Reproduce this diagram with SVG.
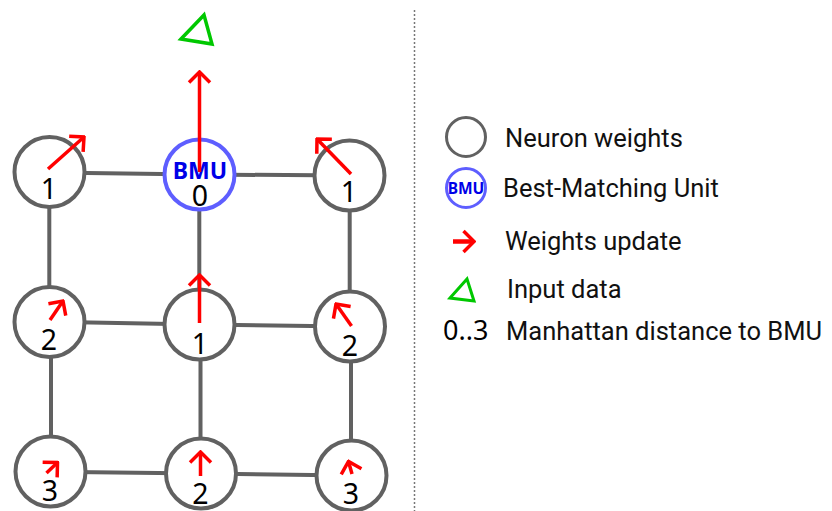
<svg xmlns="http://www.w3.org/2000/svg" width="832" height="511" viewBox="0 0 832 511">
<style>
.edge{stroke:#616161;stroke-width:4;fill:none}
.neuron{fill:#fff;stroke:#616161;stroke-width:4}
.bmu{fill:#fff;stroke:#5e5eff;stroke-width:4}
.upd{stroke:#ff0000;stroke-width:3.5;fill:none;marker-end:url(#head)}
.num{font-family:"Noto Sans","Open Sans",sans-serif;font-size:28.5px;fill:#000;text-anchor:middle}
.lbl{font-family:Roboto,"Noto Sans",sans-serif;font-size:25.5px;fill:#111}
.bmutxt{font-family:"Noto Sans","Liberation Sans",sans-serif;font-weight:bold;fill:#0000e8;text-anchor:middle}
.tri{fill:none;stroke:#00c800;stroke-width:3.5;stroke-linejoin:miter}
</style>
<defs>
<marker id="head" markerUnits="userSpaceOnUse" viewBox="-14 -14 16 28" refX="0" refY="0" markerWidth="16" markerHeight="28" orient="auto">
<path d="M-10.5,-10.5 L0,0 L-10.5,10.5" fill="none" stroke="#ff0000" stroke-width="3.5"/>
</marker>
</defs>
<line x1="414.5" y1="10" x2="414.5" y2="511" stroke="#777" stroke-width="1.5" stroke-dasharray="2 2"/>
<g id="connectors">
<line class="edge" x1="49.5" y1="172.5" x2="199.5" y2="174.5"/>
<line class="edge" x1="199.5" y1="174.5" x2="349.5" y2="175.5"/>
<line class="edge" x1="49.5" y1="321.7" x2="199.5" y2="324.5"/>
<line class="edge" x1="199.5" y1="324.5" x2="350" y2="326.5"/>
<line class="edge" x1="50.5" y1="471.7" x2="201" y2="473.5"/>
<line class="edge" x1="201" y1="473.5" x2="351.5" y2="475.5"/>
<line class="edge" x1="49.3" y1="172.5" x2="49.3" y2="322"/>
<line class="edge" x1="51" y1="322" x2="51" y2="471.5"/>
<line class="edge" x1="199.3" y1="174.5" x2="199.3" y2="324.5"/>
<line class="edge" x1="200.5" y1="324.5" x2="200.5" y2="473.5"/>
<line class="edge" x1="349.7" y1="175.5" x2="349.7" y2="326.5"/>
<line class="edge" x1="351" y1="326.5" x2="351" y2="475.5"/>
</g>
<g id="input">
<polygon class="tri" points="181,39 204,15 212,44"/>
</g>
<g id="n00">
<circle class="neuron" cx="49.5" cy="172" r="35"/>
<text class="num" x="49" y="199">1</text>
<line class="upd" x1="48" y1="169" x2="84" y2="137"/>
</g>
<g id="n01">
<circle class="bmu" cx="199.5" cy="174.5" r="35"/>
<text class="bmutxt" x="200" y="178.5" font-size="23">BMU</text>
<text class="num" x="200" y="206">0</text>
<line class="upd" x1="199.5" y1="172" x2="199.5" y2="72"/>
</g>
<g id="n02">
<circle class="neuron" cx="349.5" cy="175.5" r="35"/>
<text class="num" x="349" y="202">1</text>
<line class="upd" x1="351" y1="174" x2="317" y2="139"/>
</g>
<g id="n10">
<circle class="neuron" cx="49.5" cy="322" r="35"/>
<text class="num" x="49" y="350">2</text>
<line class="upd" x1="50" y1="320" x2="63" y2="301"/>
</g>
<g id="n11">
<circle class="neuron" cx="199.5" cy="324.5" r="35"/>
<text class="num" x="200" y="354">1</text>
<line class="upd" x1="199.5" y1="323" x2="199.5" y2="275"/>
</g>
<g id="n12">
<circle class="neuron" cx="350" cy="326.5" r="35"/>
<text class="num" x="350" y="356">2</text>
<line class="upd" x1="351.5" y1="326" x2="336" y2="304"/>
</g>
<g id="n20">
<circle class="neuron" cx="50.5" cy="471.5" r="35"/>
<text class="num" x="50" y="501">3</text>
<line class="upd" x1="46.5" y1="473" x2="57.5" y2="462.5"/>
</g>
<g id="n21">
<circle class="neuron" cx="201" cy="473.5" r="35"/>
<text class="num" x="200.5" y="504">2</text>
<line class="upd" x1="200.5" y1="476" x2="200.5" y2="452"/>
</g>
<g id="n22">
<circle class="neuron" cx="351.5" cy="475.5" r="35"/>
<text class="num" x="351" y="504">3</text>
<line class="upd" x1="352" y1="474" x2="348.5" y2="461.5"/>
</g>
<g id="legend">
<g id="leg-neuron">
<circle cx="466" cy="137" r="19.5" fill="#fff" stroke="#616161" stroke-width="3"/>
<text class="lbl" x="505" y="146.5">Neuron weights</text>
</g>
<g id="leg-bmu">
<circle cx="466" cy="188" r="19.5" fill="#fff" stroke="#5e5eff" stroke-width="3"/>
<text class="bmutxt" x="466" y="193.5" font-size="15.5">BMU</text>
<text class="lbl" x="503" y="196.5">Best-Matching Unit</text>
</g>
<g id="leg-update">
<line x1="453" y1="241.5" x2="474" y2="241.5" stroke="#ff0000" stroke-width="4.5" marker-end="url(#head)"/>
<text class="lbl" x="505" y="250">Weights update</text>
</g>
<g id="leg-input">
<polygon points="450,298 467,279 474,301" fill="none" stroke="#00c800" stroke-width="3"/>
<text class="lbl" x="507" y="298">Input data</text>
</g>
<g id="leg-dist">
<text x="443" y="340" font-family="'Noto Sans','Open Sans',sans-serif" font-size="27" fill="#000">0..3</text>
<text class="lbl" x="506" y="340" font-size="25">Manhattan distance to BMU</text>
</g>
</g>
</svg>
